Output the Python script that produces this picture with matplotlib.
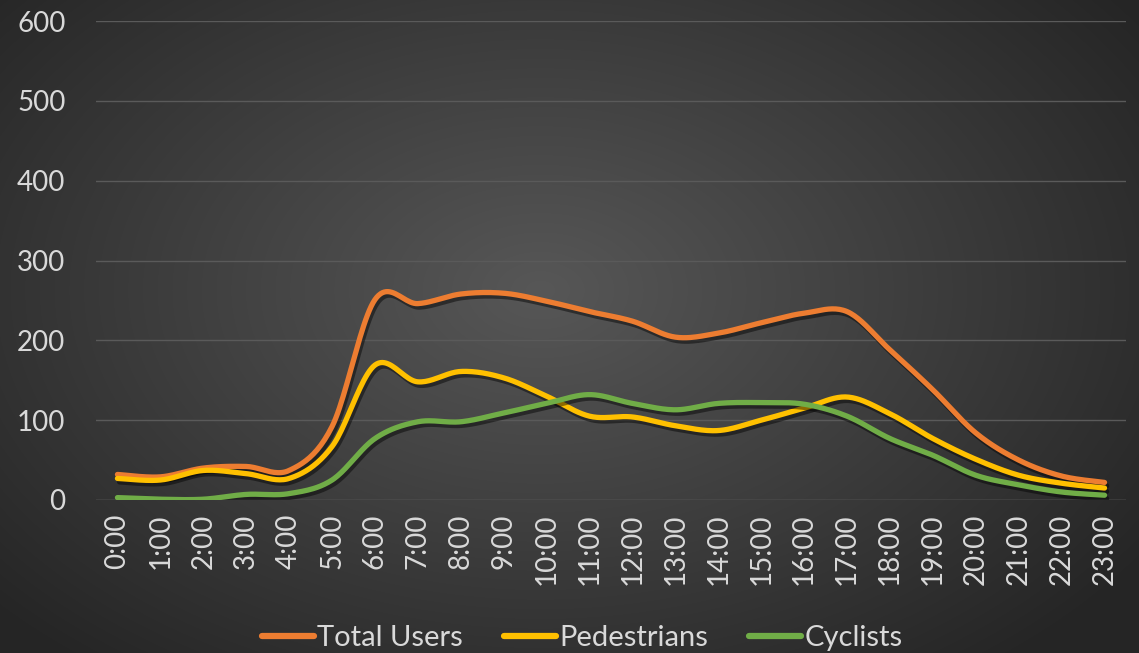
import numpy as np
import matplotlib
matplotlib.use('Agg')
import matplotlib.pyplot as plt
import matplotlib.patheffects as pe

hours = ["0:00", "1:00", "2:00", "3:00", "4:00", "5:00", "6:00", "7:00", "8:00", "9:00",
         "10:00", "11:00", "12:00", "13:00", "14:00", "15:00", "16:00", "17:00", "18:00",
         "19:00", "20:00", "21:00", "22:00", "23:00"]
total_users = [32, 29, 40, 42, 37, 92, 251, 246, 258, 259, 249, 236, 224, 204, 209, 222,
               234, 236, 188, 138, 84, 50, 30, 22]
pedestrians = [27, 25, 37, 33, 27, 67, 169, 148, 161, 153, 130, 105, 104, 93, 87, 100,
               115, 129, 108, 77, 51, 31, 21, 15]
cyclists = [3, 1, 1, 7, 8, 25, 77, 98, 98, 109, 121, 132, 121, 113, 121, 122,
            120, 105, 77, 56, 31, 19, 10, 6]
yticks = [0, 100, 200, 300, 400, 500, 600]

plt.rcParams['font.family'] = ['Lato', 'DejaVu Sans']
TXT = '#d9d9d9'


def smooth(xs, ys, n=24):
    p = np.column_stack([xs, ys]).astype(float)
    pad = np.vstack([p[0], p, p[-1]])
    out = []
    t = np.linspace(0, 1, n)[:, None]
    for i in range(len(p) - 1):
        p0, p1, p2, p3 = pad[i], pad[i + 1], pad[i + 2], pad[i + 3]
        c1 = p1 + (p2 - p0) / 6.0
        c2 = p2 - (p3 - p1) / 6.0
        seg = ((1 - t) ** 3) * p1 + 3 * ((1 - t) ** 2) * t * c1 + 3 * (1 - t) * t ** 2 * c2 + t ** 3 * p2
        out.append(seg if i == 0 else seg[1:])
    s = np.vstack(out)
    return s[:, 0], s[:, 1]


W, H = 1139, 653
fig = plt.figure(figsize=(W / 100, H / 100), dpi=100)

# radial gradient background
bg = fig.add_axes([0, 0, 1, 1], zorder=-10)
yy, xx = np.mgrid[0:H, 0:W]
cx, cy = 540, 290
r = np.sqrt(((xx - cx) / 640.0) ** 2 + ((yy - cy) / 420.0) ** 2)
r = np.clip(r, 0, 1.15) / 1.15
inner = np.array([0x57, 0x57, 0x57]) / 255.0
outer = np.array([0x25, 0x25, 0x25]) / 255.0
img = inner[None, None, :] * (1 - r[..., None]) + outer[None, None, :] * r[..., None]
bg.imshow(img, aspect='auto', extent=[0, 1, 0, 1])
bg.axis('off')

ax = fig.add_axes([96 / W, 1 - 500 / H, 1030 / W, 479 / H])
ax.patch.set_alpha(0)
x = np.arange(len(hours))

series = [("Total Users", total_users, '#ED7D31'),
          ("Pedestrians", pedestrians, '#FFC000'),
          ("Cyclists", cyclists, '#70AD47')]
shadow = [pe.SimpleLineShadow(offset=(1.5, -2.5), shadow_color='black', alpha=0.45),
          pe.Normal()]
for name, vals, col in series:
    sx, sy = smooth(x, vals)
    ax.plot(sx, sy, color=col, lw=3.8, solid_capstyle='round', label=name,
            path_effects=shadow, zorder=3)

ax.set_xlim(-0.5, len(hours) - 0.5)
ax.set_ylim(0, 600)
ax.set_yticks(yticks)
ax.set_yticklabels([str(v) for v in yticks])
ax.set_xticks(x)
ax.set_xticklabels(hours, rotation=90)
ax.tick_params(axis='y', length=0, pad=22, labelsize=20, labelcolor=TXT)
ax.tick_params(axis='x', length=0, pad=10, labelsize=20, labelcolor=TXT)
ax.grid(axis='y', color='#5a5a5a', lw=1.0)
ax.set_axisbelow(True)
for s in ax.spines.values():
    s.set_visible(False)
ax.axhline(0, color='#5a5a5a', lw=1.0, zorder=1)

leg = fig.legend(loc='center', bbox_to_anchor=(582 / W, 1 - 638 / H), ncol=3,
                 frameon=False, fontsize=21, handlelength=1.8, handletextpad=0.1,
                 columnspacing=1.4, labelcolor=TXT)
for h in leg.legend_handles:
    h.set_path_effects([])
    h.set_linewidth(4.5)

fig.savefig('out.png', dpi=100)
